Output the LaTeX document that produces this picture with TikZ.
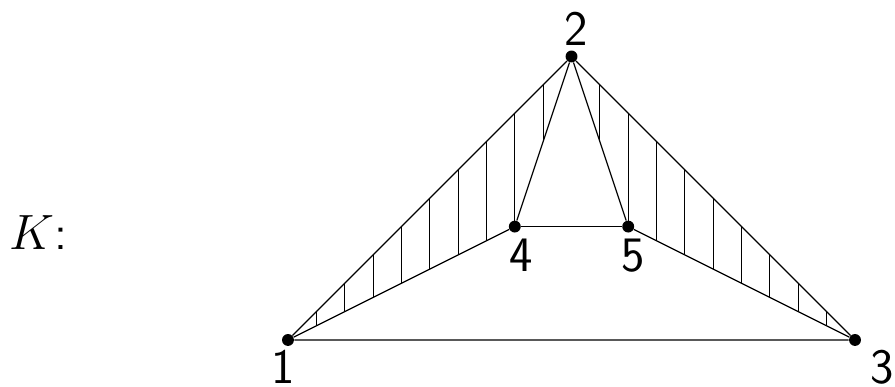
\documentclass[tikz,border=0pt]{standalone}
\begin{document}
\begin{tikzpicture}[
  pt/.style={circle, fill=black, inner sep=0pt, minimum size=0.21cm},
  lbl/.style={font=\sffamily\Huge, anchor=base, inner sep=0pt},
  edge/.style={line width=0.6pt},
  hatch/.style={line width=0.5pt},
]
\useasboundingbox (-5.079,-0.829) rectangle (10.705,5.996);

% vertices
\node[pt] (p1) at (0,0) {};
\node[pt] (p2) at (5,5) {};
\node[pt] (p3) at (10,0) {};
\node[pt] (p4) at (4,2) {};
\node[pt] (p5) at (6,2) {};

% hatched triangles
\begin{scope}
  \clip (p1.center) -- (p2.center) -- (p4.center) -- cycle;
  \foreach \x in {0.5,1,...,4.5} \draw[hatch] (\x,0) -- (\x,5);
\end{scope}
\begin{scope}
  \clip (p2.center) -- (p3.center) -- (p5.center) -- cycle;
  \foreach \x in {5.5,6,...,9.5} \draw[hatch] (\x,0) -- (\x,5);
\end{scope}

% edges
\draw[edge] (p1) -- (p2) -- (p3) -- (p1);
\draw[edge] (p1) -- (p4) -- (p2) -- (p5) -- (p3);
\draw[edge] (p4) -- (p5);

% labels
\node[lbl] (l1) at (-0.09,-0.76) {1};
\node[lbl] (l2) at (5.08,5.19) {2};
\node[lbl] (l3) at (10.48,-0.76) {3};
\node[lbl] (l4) at (4.11,1.20) {4};
\node[lbl] (l5) at (6.08,1.20) {5};
\node[lbl, anchor=base west] (lk) at (-4.91,1.59) {$K$:};
\end{tikzpicture}
\end{document}
